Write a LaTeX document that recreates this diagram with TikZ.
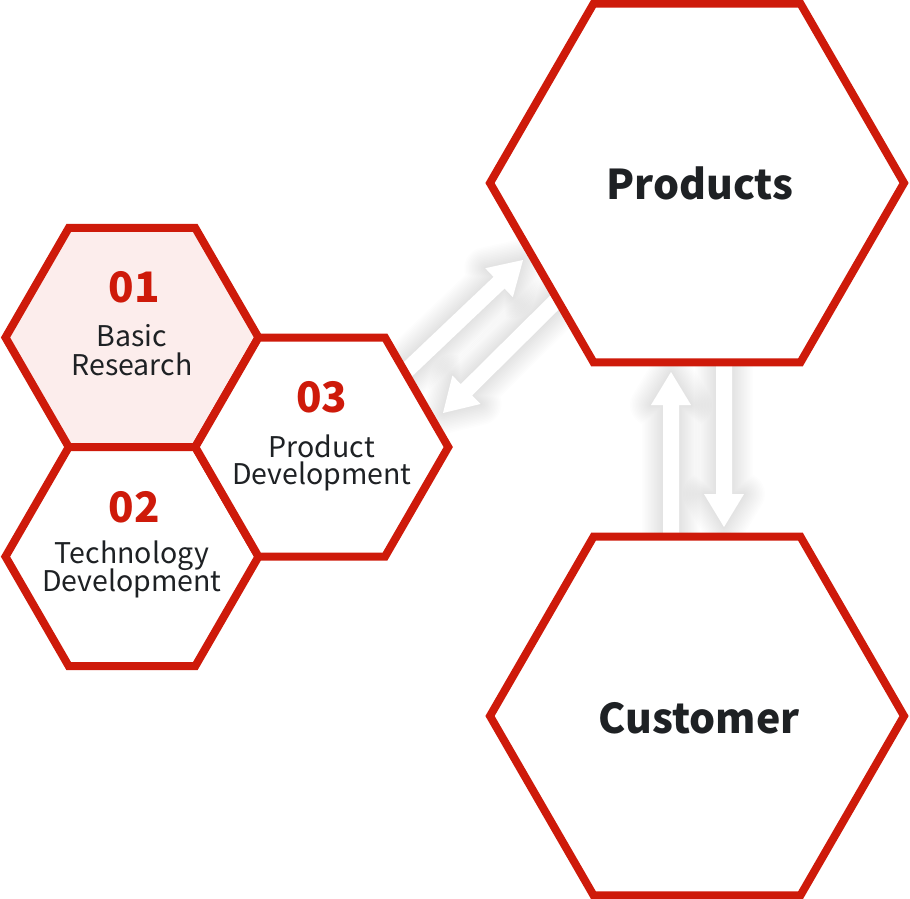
\documentclass[tikz,border=0pt]{standalone}
\usepackage{fontspec}
\setmainfont{Noto Sans CJK KR}
\usetikzlibrary{shapes.geometric,calc}
\definecolor{hred}{RGB}{206,26,10}
\definecolor{hpink}{RGB}{252,237,236}
\definecolor{htext}{RGB}{30,33,36}
\newcommand{\arrowshape}[2]{($(#1)!8pt!90:(#2)$) -- ($(#1h)!8pt!-90:(#1)$) -- ($(#1h)!20pt!-90:(#1)$) -- (#2) -- ($(#1h)!20pt!90:(#1)$) -- ($(#1h)!8pt!90:(#1)$) -- ($(#1)!8pt!-90:(#2)$) -- cycle}
\newcommand{\blockarrow}[2]{%
  \coordinate (#1h) at ($(#2)!33pt!(#1)$);
  \foreach \w in {3,6,...,42} {\draw[line width=\w pt, black, opacity=0.009, line join=round] \arrowshape{#1}{#2};}
  \fill[white] \arrowshape{#1}{#2};}
\begin{document}
\begin{tikzpicture}[x=1pt,y=-1pt,
  hexa/.style={regular polygon, regular polygon sides=6, draw=hred, line width=8pt, fill=white, inner sep=0pt, outer sep=0pt},
  small/.style={hexa, minimum size=253pt},
  big/.style={hexa, minimum size=414pt},
  num/.style={anchor=base, inner sep=0pt, text=hred, font=\fontsize{42}{42}\selectfont\bfseries},
  lbl/.style={anchor=base, inner sep=0pt, text=htext, font=\fontsize{28.5}{29}\selectfont},
  title/.style={anchor=base, inner sep=0pt, text=htext, font=\fontsize{41}{41}\selectfont\bfseries}]
\useasboundingbox (0,0) rectangle (910,898);
% arrow end points
\coordinate (a1t) at (405,372);
\coordinate (a1p) at (523,260);
\coordinate (a2t) at (560,297);
\coordinate (a2p) at (443,413);
\coordinate (a3t) at (671,545);
\coordinate (a3p) at (671,372);
\coordinate (a4t) at (724,355);
\coordinate (a4p) at (724,527);
\blockarrow{a1t}{a1p}
\blockarrow{a2t}{a2p}
\blockarrow{a3t}{a3p}
\blockarrow{a4t}{a4p}
% hexagons
\node[small, fill=hpink] (h1) at (132,337.5) {};
\node[small] (h2) at (132,556.6) {};
\node[small] (h3) at (321.75,447.05) {};
\node[big] (prod) at (697,183) {};
\node[big] (cust) at (697,716) {};
% texts
\node[num] (n1) at ($(h1)+(2,-35.5)$) {01};
\node[lbl] (t1a) at ($(h1)+(0,9)$) {Basic};
\node[lbl] (t1b) at ($(h1)+(0,37.5)$) {Research};
\node[num] (n2) at ($(h2)+(2,-34.6)$) {02};
\node[lbl] (t2a) at ($(h2)+(0,6.7)$) {Technology};
\node[lbl] (t2b) at ($(h2)+(0,34.7)$) {Development};
\node[num] (n3) at ($(h3)+(0,-35)$) {03};
\node[lbl] (t3a) at ($(h3)+(0,10)$) {Product};
\node[lbl] (t3b) at ($(h3)+(0,37)$) {Development};
\node[title] (tp) at ($(prod)+(3,16)$) {Products};
\node[title] (tc) at ($(cust)+(2,17)$) {Customer};
\end{tikzpicture}
\end{document}
